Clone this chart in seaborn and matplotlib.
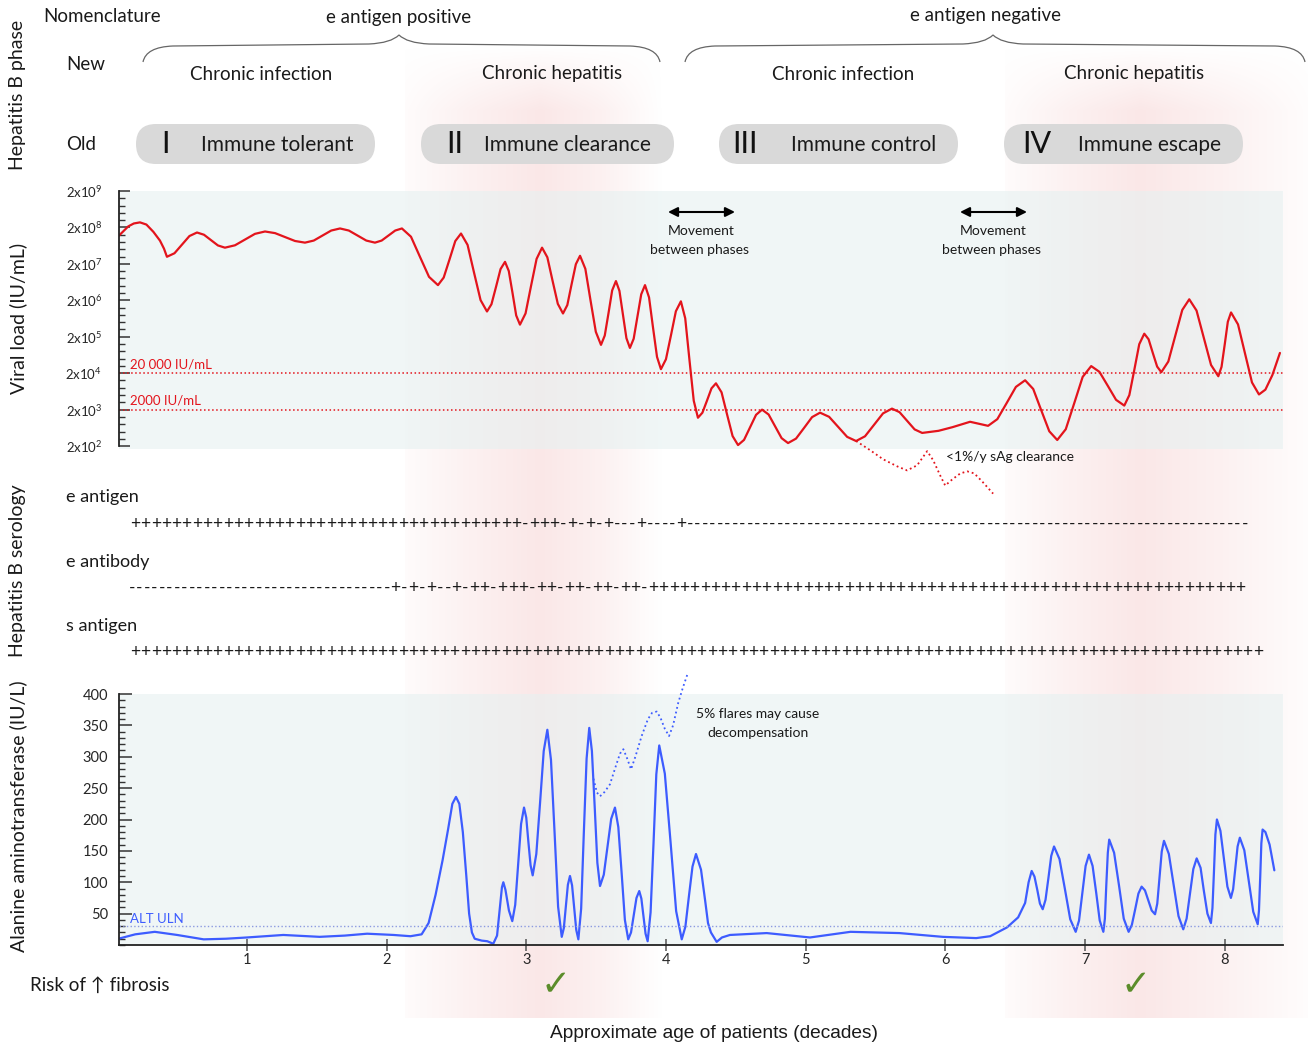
import numpy as np
import matplotlib
matplotlib.use('Agg')
import matplotlib.pyplot as plt
import seaborn as sns
from matplotlib.patches import FancyBboxPatch, PathPatch
from matplotlib.path import Path
from matplotlib.ticker import FixedLocator, MultipleLocator

sns.set_style('white')
plt.rcParams['font.family'] = ['Lato', 'DejaVu Sans']
plt.rcParams['mathtext.fontset'] = 'custom'
plt.rcParams['mathtext.rm'] = 'Lato'
plt.rcParams['mathtext.it'] = 'Lato:italic'
plt.rcParams['mathtext.bf'] = 'Lato:bold'

# ---- data ----
# viral load, x in decades of age, y = log10(IU/mL)
viral_x = [0.084, 0.15, 0.19, 0.234, 0.28, 0.33, 0.377, 0.406, 0.427, 0.481,
           0.535, 0.588, 0.642, 0.692, 0.742, 0.792, 0.842, 0.914, 0.986, 1.057,
           1.129, 1.201, 1.272, 1.344, 1.415, 1.478, 1.541, 1.603, 1.666, 1.729,
           1.791, 1.854, 1.916, 1.964, 2.013, 2.061, 2.109, 2.174, 2.238, 2.303,
           2.367, 2.408, 2.450, 2.491, 2.532, 2.579, 2.625, 2.672, 2.718, 2.750,
           2.783, 2.815, 2.847, 2.874, 2.901, 2.927, 2.954, 2.994, 3.033, 3.073,
           3.112, 3.150, 3.187, 3.225, 3.262, 3.293, 3.323, 3.354, 3.384, 3.422,
           3.459, 3.497, 3.534, 3.561, 3.588, 3.614, 3.641, 3.666, 3.691, 3.716,
           3.741, 3.768, 3.795, 3.822, 3.849, 3.878, 3.906, 3.935, 3.963, 3.999,
           4.035, 4.070, 4.106, 4.137, 4.167, 4.198, 4.228, 4.260, 4.293, 4.325,
           4.357, 4.397, 4.436, 4.476, 4.515, 4.558, 4.601, 4.644, 4.687, 4.734,
           4.780, 4.827, 4.873, 4.930, 4.988, 5.045, 5.102, 5.167, 5.231, 5.296,
           5.360, 5.424, 5.489, 5.553, 5.617, 5.671, 5.725, 5.779, 5.833, 5.95,
           6.05, 6.176, 6.305, 6.371, 6.438, 6.504, 6.570, 6.628, 6.685, 6.743,
           6.800, 6.861, 6.922, 6.982, 7.043, 7.102, 7.162, 7.221, 7.280, 7.316,
           7.352, 7.387, 7.423, 7.454, 7.484, 7.515, 7.545, 7.595, 7.645, 7.695,
           7.745, 7.797, 7.849, 7.901, 7.953, 7.976, 7.999, 8.021, 8.044, 8.094,
           8.144, 8.194, 8.244, 8.29, 8.34, 8.394]
viral_log = [8.079, 8.33, 8.41, 8.44, 8.38, 8.18, 7.94, 7.718, 7.496, 7.593,
             7.829, 8.065, 8.162, 8.101, 7.954, 7.807, 7.746, 7.811, 7.968, 8.125,
             8.190, 8.145, 8.037, 7.929, 7.884, 7.941, 8.079, 8.216, 8.273, 8.216,
             8.079, 7.941, 7.884, 7.941, 8.079, 8.216, 8.273, 8.046, 7.496, 6.945,
             6.718, 6.925, 7.426, 7.927, 8.134, 7.822, 7.065, 6.307, 5.995, 6.194,
             6.676, 7.158, 7.357, 7.105, 6.496, 5.886, 5.634, 5.942, 6.690, 7.438,
             7.746, 7.482, 6.843, 6.204, 5.940, 6.171, 6.732, 7.292, 7.523, 7.166,
             6.301, 5.436, 5.079, 5.335, 5.954, 6.573, 6.829, 6.561, 5.912, 5.263,
             4.995, 5.247, 5.857, 6.466, 6.718, 6.381, 5.565, 4.749, 4.412, 4.684,
             5.343, 6.001, 6.273, 5.807, 4.676, 3.545, 3.079, 3.217, 3.551, 3.885,
             4.023, 3.776, 3.176, 2.576, 2.329, 2.471, 2.815, 3.159, 3.301, 3.167,
             2.843, 2.518, 2.384, 2.506, 2.801, 3.096, 3.218, 3.104, 2.829, 2.554,
             2.440, 2.570, 2.885, 3.199, 3.329, 3.232, 2.996, 2.759, 2.662, 2.72,
             2.82, 2.968, 2.857, 3.040, 3.482, 3.925, 4.107, 3.868, 3.288, 2.707,
             2.468, 2.764, 3.482, 4.200, 4.496, 4.338, 3.954, 3.570, 3.412, 3.700,
             4.399, 5.097, 5.385, 5.231, 4.857, 4.483, 4.329, 4.621, 5.329, 6.037,
             6.329, 6.021, 5.274, 4.526, 4.218, 4.474, 5.093, 5.712, 5.968, 5.640,
             4.843, 4.047, 3.718, 3.85, 4.25, 4.857]
# sAg clearance branch (dotted)
clear_x = [5.360, 5.460, 5.553, 5.654, 5.725, 5.797, 5.869, 5.912, 5.962, 5.998,
           6.048, 6.106, 6.156, 6.206, 6.263, 6.341]
clear_log = [2.440, 2.190, 1.940, 1.745, 1.634, 1.773, 2.162, 1.912, 1.496, 1.218,
             1.385, 1.551, 1.607, 1.551, 1.329, 0.996]

# ALT (IU/L)
alt_x = [0.08, 0.2, 0.34, 0.5, 0.69, 0.85, 1.0, 1.26, 1.52, 1.7,
         1.86, 2.05, 2.17, 2.25, 2.30, 2.35, 2.40, 2.44, 2.47, 2.496,
         2.52, 2.545, 2.57, 2.59, 2.61, 2.63, 2.68, 2.72, 2.763, 2.79,
         2.81, 2.825, 2.835, 2.85, 2.875, 2.899, 2.92, 2.941, 2.962, 2.983,
         2.999, 3.014, 3.030, 3.045, 3.071, 3.098, 3.124, 3.150, 3.176, 3.202,
         3.227, 3.253, 3.268, 3.283, 3.297, 3.312, 3.327, 3.342, 3.357, 3.372,
         3.392, 3.411, 3.431, 3.450, 3.469, 3.489, 3.508, 3.527, 3.554, 3.581,
         3.607, 3.634, 3.658, 3.682, 3.705, 3.729, 3.749, 3.769, 3.788, 3.808,
         3.823, 3.838, 3.853, 3.868, 3.889, 3.910, 3.930, 3.951, 3.991, 4.032,
         4.072, 4.112, 4.138, 4.163, 4.189, 4.214, 4.25, 4.28, 4.30, 4.321,
         4.362, 4.40, 4.457, 4.72, 5.03, 5.32, 5.67, 5.98, 6.22, 6.32,
         6.44, 6.52, 6.57, 6.595, 6.617, 6.637, 6.657, 6.676, 6.696, 6.716,
         6.737, 6.757, 6.777, 6.816, 6.855, 6.893, 6.932, 6.956, 6.980, 7.003,
         7.027, 7.053, 7.079, 7.104, 7.130, 7.141, 7.151, 7.162, 7.172, 7.207,
         7.242, 7.276, 7.311, 7.334, 7.358, 7.381, 7.404, 7.428, 7.452, 7.476,
         7.500, 7.516, 7.532, 7.548, 7.564, 7.599, 7.633, 7.668, 7.702, 7.726,
         7.750, 7.774, 7.798, 7.826, 7.849, 7.875, 7.900, 7.911, 7.922, 7.932,
         7.943, 7.968, 7.993, 8.018, 8.043, 8.059, 8.075, 8.091, 8.107, 8.139,
         8.171, 8.203, 8.235, 8.244, 8.253, 8.261, 8.27, 8.29, 8.32, 8.354]
alt_val = [10, 17, 21, 16, 9, 10, 12, 16, 13, 15,
           18, 16, 14, 17, 35, 80, 135, 185, 225, 236,
           225, 180, 110, 50, 20, 10, 7, 6, 2, 15,
           60, 92, 100, 88, 55, 38, 64, 128, 193, 219,
           203, 165, 127, 111, 145, 227, 309, 343, 295, 178,
           61, 13, 27, 62, 96, 110, 95, 60, 24, 9,
           58, 178, 297, 346, 309, 220, 131, 94, 112, 157,
           201, 219, 188, 114, 40, 9, 20, 48, 75, 86,
           74, 46, 18, 6, 52, 162, 272, 318, 273, 164,
           54, 9, 29, 77, 125, 145, 120, 70, 35, 20,
           5, 12, 16, 19, 12, 21, 19, 13, 11, 14,
           28, 44, 67, 100, 118, 109, 88, 66, 57, 72,
           107, 142, 157, 137, 89, 41, 21, 39, 83, 126,
           144, 126, 83, 39, 21, 42, 95, 147, 168, 147,
           95, 42, 21, 32, 57, 82, 93, 87, 71, 55,
           49, 66, 108, 149, 166, 145, 96, 46, 25, 42,
           82, 121, 138, 123, 87, 50, 35, 59, 118, 176,
           200, 182, 138, 93, 75, 89, 123, 157, 171, 151,
           102, 53, 33, 55, 109, 162, 184, 180, 160, 119]
# flare branch (dotted)
flare_x = [3.480, 3.505, 3.527, 3.56, 3.598, 3.64, 3.67, 3.694, 3.72, 3.749,
           3.78, 3.825, 3.87, 3.90, 3.933, 3.96, 3.99, 4.021, 4.05, 4.087,
           4.12, 4.152]
flare_val = [265, 243, 237, 244, 256, 285, 305, 312, 298, 280,
             300, 333, 360, 370, 372, 362, 345, 333, 350, 386,
             410, 431]

alt_uln = 30
hbv_dna_thresholds = [20000, 2000]
threshold_labels = ['20 000 IU/mL', '2000 IU/mL']
viral_exponents = [2, 3, 4, 5, 6, 7, 8, 9]
alt_ticks = [50, 100, 150, 200, 250, 300, 350, 400]
decades = [1, 2, 3, 4, 5, 6, 7, 8]

new_names = ['Chronic infection', 'Chronic hepatitis', 'Chronic infection', 'Chronic hepatitis']
old_names = ['Immune tolerant', 'Immune clearance', 'Immune control', 'Immune escape']
numerals = ['I', 'II', 'III', 'IV']

sero_labels = ['e antigen', 'e antibody', 's antigen']
sero_strings = ['+' * 38 + '-+++-+-+-+---+----+' + '-' * 75,
                '-' * 35 + '+-+-+--+-++-+++-++-++-++-++-' + '+' * 58,
                '+' * 110]

# ---- figure ----
W, H = 1308, 1049
fig = plt.figure(figsize=(W / 100, H / 100), dpi=100)
fig.patch.set_facecolor('white')


def px_axes(l, t, r, b, **kw):
    return fig.add_axes([l / W, 1 - b / H, (r - l) / W, (b - t) / H], **kw)


# pink "hepatitis" bands behind everything
ax_bg = px_axes(0, 0, W, H, zorder=-1)
ax_bg.set_xlim(0, W)
ax_bg.set_ylim(H, 0)
ax_bg.set_axis_off()
gx = np.arange(W)
prof = np.maximum(np.interp(gx, [404, 405, 470, 540, 600, 662], [0, 0.15, 0.6, 1, 0.6, 0]),
                  np.interp(gx, [1004, 1005, 1070, 1140, 1220, 1308], [0, 0.15, 0.6, 1, 0.6, 0.1]))
gy = np.arange(H)
vprof = np.interp(gy, [45, 110, 1017, 1018], [0, 1, 1, 0])
rgba = np.zeros((H, W, 4))
rgba[..., 0] = 0.96
rgba[..., 1] = 0.78
rgba[..., 2] = 0.78
rgba[..., 3] = 0.42 * vprof[:, None] * prof[None, :]
ax_bg.imshow(rgba, extent=(0, W, H, 0), aspect='auto', interpolation='bilinear')

red = '#e3141c'
blue = '#3d5cff'
panel = (0.90, 0.945, 0.945, 0.6)
xlim = (0.0838, 8.416)

# viral load panel
ax_vl = px_axes(119, 191, 1283, 449)
ax_vl.set_facecolor(panel)
sns.lineplot(x=viral_x, y=viral_log, ax=ax_vl, color=red, lw=1.6, estimator=None, sort=False)
sns.lineplot(x=clear_x, y=clear_log, ax=ax_vl, color=red, lw=1.3, linestyle=':',
             estimator=None, sort=False, clip_on=False)
for thr, lab in zip(hbv_dna_thresholds, threshold_labels):
    ax_vl.axhline(np.log10(thr), color=red, lw=1.1, ls=':')
    ax_vl.text(0.16, np.log10(thr) + 0.08, lab, color=red, fontsize=9.5, va='bottom')
ax_vl.set_xlim(*xlim)
ax_vl.set_ylim(np.log10(2e2) - 0.08, np.log10(2e9))
ax_vl.set_yticks([np.log10(2) + k for k in viral_exponents])
ax_vl.set_yticklabels([r'2x10$^{%d}$' % k for k in viral_exponents], fontsize=9.5)
ax_vl.yaxis.set_minor_locator(FixedLocator(np.log10(2) + 2 + 0.2 * np.arange(36)))
ax_vl.set_xticks([])
for s in ['top', 'right', 'bottom']:
    ax_vl.spines[s].set_visible(False)
ax_vl.spines['left'].set_color('#222222')
ax_vl.spines['left'].set_linewidth(1.3)
ax_vl.spines['left'].set_bounds(np.log10(2e2), np.log10(2e9))
ax_vl.tick_params(axis='y', which='major', direction='in', length=8, width=1.1, color='#333333', pad=12, left=True)
ax_vl.tick_params(axis='y', which='minor', direction='in', length=4.5, width=1.0, color='#333333', left=True)

# ALT panel
ax_alt = px_axes(119, 694, 1283, 945)
ax_alt.set_facecolor(panel)
sns.lineplot(x=alt_x, y=alt_val, ax=ax_alt, color=blue, lw=1.6, estimator=None, sort=False)
sns.lineplot(x=flare_x, y=flare_val, ax=ax_alt, color=blue, lw=1.3, linestyle=':',
             estimator=None, sort=False, clip_on=False)
ax_alt.axhline(alt_uln, color='#8c9ae0', lw=1.0, ls=':')
ax_alt.text(0.16, alt_uln + 2, 'ALT ULN', color=blue, fontsize=9.5, va='bottom')
ax_alt.set_xlim(*xlim)
ax_alt.set_ylim(0, 400)
ax_alt.set_yticks(alt_ticks)
ax_alt.set_yticklabels([str(t) for t in alt_ticks], fontsize=10.5)
ax_alt.yaxis.set_minor_locator(MultipleLocator(10))
ax_alt.set_xticks(decades)
ax_alt.set_xticklabels([str(d) for d in decades], fontsize=10.5)
for s in ['top', 'right']:
    ax_alt.spines[s].set_visible(False)
for s in ['left', 'bottom']:
    ax_alt.spines[s].set_color('#222222')
    ax_alt.spines[s].set_linewidth(1.3)
ax_alt.tick_params(axis='y', which='major', direction='in', length=9, width=1.1, color='#333333', pad=8, left=True)
ax_alt.tick_params(axis='y', which='minor', direction='in', length=4.5, width=1.0, color='#333333', left=True)
ax_alt.tick_params(axis='x', which='major', direction='inout', length=8, width=1.1, color='#555555', pad=2, bottom=True)

# ---- annotation layer in pixel coordinates ----
ax = px_axes(0, 0, W, H, zorder=5)
ax.set_xlim(0, W)
ax.set_ylim(H, 0)
ax.set_axis_off()

txt = '#1a1a1a'
ax.text(18, 95, 'Hepatitis B phase', rotation=90, ha='center', va='center', fontsize=14, color=txt)
ax.text(18, 318, 'Viral load (IU/mL)', rotation=90, ha='center', va='center', fontsize=14, color=txt)
ax.text(18, 571, 'Hepatitis B serology', rotation=90, ha='center', va='center', fontsize=14, color=txt)
ax.text(18, 816, 'Alanine aminotransferase (IU/L)', rotation=90, ha='center', va='center', fontsize=14, color=txt)

ax.text(43, 16, 'Nomenclature', ha='left', va='center', fontsize=13.5, color=txt)
ax.text(399, 17, 'e antigen positive', ha='center', va='center', fontsize=13.5, color=txt)
ax.text(985, 15, 'e antigen negative', ha='center', va='center', fontsize=13.5, color=txt)
ax.text(66, 65, 'New', ha='left', va='center', fontsize=13.5, color=txt)
ax.text(66, 145, 'Old', ha='left', va='center', fontsize=13.5, color=txt)


def brace(x0, xm, x1, top=35, mid=46, foot=62):
    verts = [(x0, foot), (x0 + 3, mid + 1), (x0 + 30, mid),
             (xm - 30, mid - 2), (xm - 8, mid - 3), (xm, top),
             (xm + 8, mid - 3), (xm + 30, mid - 2),
             (x1 - 30, mid), (x1 - 3, mid + 1), (x1, foot)]
    codes = [Path.MOVETO, Path.CURVE3, Path.CURVE3,
             Path.LINETO, Path.CURVE3, Path.CURVE3,
             Path.CURVE3, Path.CURVE3,
             Path.LINETO, Path.CURVE3, Path.CURVE3]
    ax.add_patch(PathPatch(Path(verts, codes), fc='none', ec='#666666', lw=0.9))


brace(143, 399, 660)
brace(685, 993, 1305)

new_x = [261, 552, 843, 1134]
pill_l = [136, 421, 719, 1004]
pill_r = [375, 674, 958, 1243]
num_x = [165, 455, 745, 1037]
lab_x = [277, 567, 864, 1150]
for i in range(4):
    ax.text(new_x[i], 74, new_names[i], ha='center', va='center', fontsize=13.5, color=txt)
    ax.add_patch(FancyBboxPatch((pill_l[i], 124), pill_r[i] - pill_l[i], 40,
                                boxstyle='round,pad=0,rounding_size=20', fc='#d9d9d9', ec='none'))
    ax.text(num_x[i], 144, numerals[i], ha='center', va='center', fontsize=22, color='#111111')
    ax.text(lab_x[i], 145, old_names[i], ha='center', va='center', fontsize=15, color=txt)

# movement arrows
for cx in [701, 993]:
    ax.annotate('', xy=(cx - 33, 212), xytext=(cx + 34, 212),
                arrowprops=dict(arrowstyle='<|-|>', color='black', lw=1.5,
                                mutation_scale=14, shrinkA=0, shrinkB=0))
    ax.text(cx, 231, 'Movement', ha='center', va='center', fontsize=10, color=txt)
    ax.text(cx - 2, 250, 'between phases', ha='center', va='center', fontsize=10, color=txt)

ax.text(946, 457, '<1%/y sAg clearance', ha='left', va='center', fontsize=10, color=txt)
ax.text(758, 714, '5% flares may cause', ha='center', va='center', fontsize=10, color=txt)
ax.text(758, 733, 'decompensation', ha='center', va='center', fontsize=10, color=txt)

# serology rows
row_y = [524, 588, 652]
row_x0 = [130, 128, 130]
label_y = [497, 562, 626]
for lab, s, y, x0, ly in zip(sero_labels, sero_strings, row_y, row_x0, label_y):
    ax.text(66, ly, lab, ha='left', va='center', fontsize=13, color=txt)
    x = x0
    for c in s:
        w = 10.3 if c == '+' else 7.5
        ax.text(x + w / 2, y, c, ha='center', va='center', fontsize=12.5, color=txt)
        x += w

ax.text(30, 985, 'Risk of \u2191 fibrosis', ha='left', va='center', fontsize=13.5, color=txt)
for cx in [556, 1136]:
    ax.text(cx, 985, '\u2713', ha='center', va='center', fontsize=26, color='#5b8c2a',
            family='DejaVu Sans')
ax.text(714, 1034, 'Approximate age of patients (decades)', ha='center', va='center',
        fontsize=13.8, color=txt, family='Liberation Sans')

fig.savefig('out.png', dpi=100)
